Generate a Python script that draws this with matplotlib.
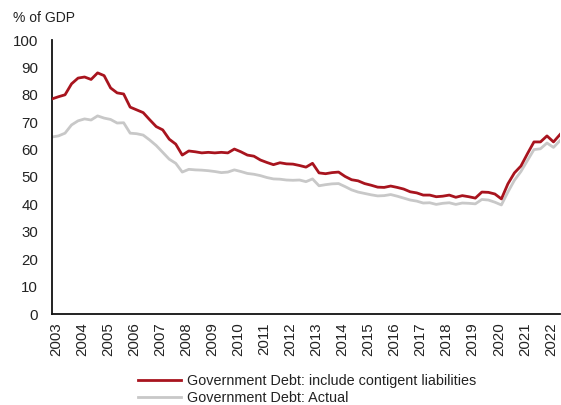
import numpy as np
import matplotlib
matplotlib.use("Agg")
import matplotlib.pyplot as plt

plt.rcParams['font.family'] = ['Liberation Sans', 'DejaVu Sans']

# Quarterly series, 2003Q1 onward (% of GDP)
debt_contingent = [
    78.5, 79.3, 80.0, 84.0, 86.1, 86.5, 85.6, 88.0,
    87.0, 82.5, 80.7, 80.3, 75.5, 74.5, 73.5, 70.9,
    68.4, 67.2, 63.8, 62.0, 58.0, 59.5, 59.2, 58.8,
    59.0, 58.8, 59.0, 58.8, 60.2, 59.2, 58.0, 57.6,
    56.2, 55.3, 54.5, 55.2, 54.8, 54.7, 54.2, 53.6,
    55.0, 51.5, 51.2, 51.6, 51.8, 50.2, 49.0, 48.6,
    47.6, 47.0, 46.3, 46.2, 46.7, 46.2, 45.6, 44.6,
    44.2, 43.4, 43.4, 42.8, 43.0, 43.4, 42.6, 43.2,
    42.8, 42.3, 44.5, 44.4, 43.8, 42.0, 47.5, 51.5,
    54.0, 58.5, 62.8, 62.8, 65.0, 62.8, 65.5,
]
debt_actual = [
    64.6, 65.0, 66.0, 69.0, 70.5, 71.2, 70.8, 72.3,
    71.5, 71.0, 69.7, 69.8, 66.0, 65.8, 65.3, 63.5,
    61.5, 59.0, 56.5, 55.0, 51.8, 52.8, 52.6, 52.5,
    52.3, 52.0, 51.6, 51.8, 52.6, 52.0, 51.3, 51.0,
    50.5, 49.8, 49.3, 49.2, 48.9, 48.8, 48.9, 48.3,
    49.3, 46.8, 47.2, 47.5, 47.6, 46.5, 45.3, 44.5,
    44.0, 43.5, 43.1, 43.2, 43.6, 43.0, 42.3, 41.6,
    41.2, 40.5, 40.6, 40.0, 40.4, 40.6, 40.0, 40.5,
    40.4, 40.2, 41.8, 41.6, 40.8, 39.8, 44.5, 48.8,
    52.0, 56.0, 60.0, 60.3, 62.4, 60.8, 63.3,
]
years = list(range(2003, 2023))
series_labels = ["Government Debt: include contigent liabilities",
                 "Government Debt: Actual"]

t = 2003 + np.arange(len(debt_contingent)) / 4.0

fig = plt.figure(figsize=(5.61, 4.05), dpi=100)
ax = fig.add_axes([52 / 561, 1 - 314 / 405, 508 / 561, 274 / 405])

ax.plot(t, debt_actual, color="#c8c8c8", lw=2.0, label=series_labels[1], zorder=2)
ax.plot(t, debt_contingent, color="#a8141e", lw=2.0, label=series_labels[0], zorder=3)

ax.set_xlim(t[0], t[-1])
ax.set_ylim(0, 100)
ax.set_yticks(range(0, 101, 10))
ax.set_xticks([y + 0.15 for y in years])
ax.set_xticklabels([str(y) for y in years], rotation=90)
ax.tick_params(axis="both", length=0, labelsize=10.8, colors="#222222")
ax.tick_params(axis="y", pad=10)
ax.tick_params(axis="x", pad=6)

for side in ("top", "right"):
    ax.spines[side].set_visible(False)
for side in ("left", "bottom"):
    ax.spines[side].set_linewidth(1.3)
    ax.spines[side].set_color("#111111")

fig.text(13 / 561, 1 - 18 / 405, "% of GDP", fontsize=10, va="center", ha="left",
         color="#222222")

handles, labels = ax.get_legend_handles_labels()
leg = fig.legend(handles[::-1], labels[::-1], loc="lower left",
                 bbox_to_anchor=(132 / 561, -6 / 405), frameon=False,
                 fontsize=10.4, handlelength=3.0, handletextpad=0.4,
                 labelspacing=0.2, borderaxespad=0.0)
for txt in leg.get_texts():
    txt.set_color("#222222")

fig.savefig("out.png", dpi=100, facecolor="white")
